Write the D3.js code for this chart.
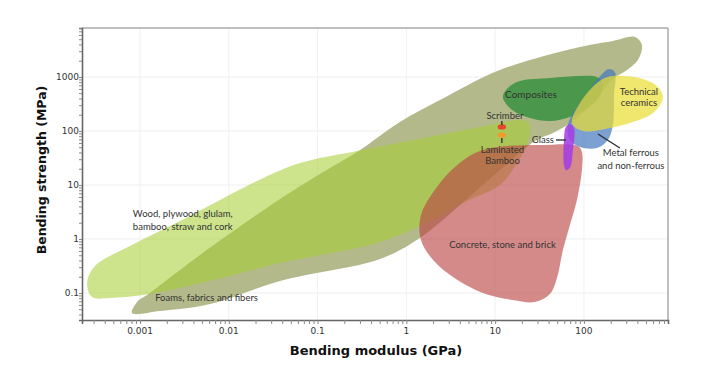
<!DOCTYPE html>
<html><head><meta charset="utf-8">
<script src="https://cdn.jsdelivr.net/npm/d3@7"></script>
<style>body{margin:0;background:#fff}svg{display:block}</style>
</head><body><svg id="c" width="701" height="367"></svg>
<script>
// ---- axis ticks ----
const xTicks = [0.001, 0.01, 0.1, 1, 10, 100];
const xTickLabels = ["0.001", "0.01", "0.1", "1", "10", "100"];
const yTicks = [0.1, 1, 10, 100, 1000];
const yTickLabels = ["0.1", "1", "10", "100", "1000"];
const xTitle = "Bending modulus (GPa)";
const yTitle = "Bending strength (MPa)";

// ---- material envelopes: modulus (GPa) / strength (MPa) outline points ----
const foamE = [0.000813, 0.000948, 0.0012, 0.00474, 0.0378, 0.138, 0.278, 0.847, 2.39, 11.3, 90.2, 212, 375, 450, 406, 305, 212, 133, 79.2, 47.1, 28.1, 11.3, 4.02, 1.42, 0.505, 0.0378, 0.00614, 0.00168];
const foamS = [0.0426, 0.0711, 0.0918, 0.506, 5.51, 20.6, 40.8, 147, 375, 1349, 3592, 4642, 5505, 3915, 2064, 1349, 918, 375, 160, 95.8, 65.3, 18.9, 4.26, 1.04, 0.426, 0.167, 0.0626, 0.0464];

const woodE = [0.000253, 0.000311, 0.000771, 0.00282, 0.0208, 0.0634, 0.278, 1.19, 6.75, 19.0, 24.0, 24.7, 22.2, 17.1, 11.3, 4.81, 1.85, 0.505, 0.0378, 0.00664, 0.0013, 0.000459, 0.000288];
const woodS = [0.153, 0.316, 0.742, 2.15, 11.9, 25.5, 42.6, 68.1, 119, 160, 141, 91.8, 50.5, 23.5, 10, 5.05, 2.15, 0.88, 0.359, 0.174, 0.0958, 0.0808, 0.0843];

const concreteE = [5.93, 10.5, 32.0, 85.5, 94.9, 94.9, 83.4, 69.5, 58.0, 49.7, 41.4, 28.1, 15.8, 7.29, 3.35, 2.0, 1.46, 1.46, 2.21, 3.52];
const concreteS = [39.1, 50.5, 55.0, 52.7, 40.8, 18.9, 5.27, 1.82, 0.626, 0.190, 0.0958, 0.0681, 0.0742, 0.1, 0.198, 0.409, 0.958, 2.78, 9.18, 21.5];

const compositesE = [12.2, 13.9, 19.0, 41.4, 90.2, 140, 164, 151, 111, 69.5, 41.4, 24.7, 15.5];
const compositesS = [426, 626, 843, 958, 1044, 1000, 742, 445, 267, 182, 153, 174, 245];

const metalE = [160, 191, 223, 218, 212, 186, 140, 90.2, 69.5, 66.1, 79.2, 111];
const metalS = [1137, 1407, 1238, 464, 129, 68.1, 48.4, 50.5, 68.1, 129, 245, 528];

const ceramicsE = [73.3, 90.2, 140, 186, 275, 462, 681, 776, 598, 330, 196, 97.4];
const ceramicsS = [141, 330, 774, 1000, 1044, 918, 653, 408, 215, 141, 114, 100];

const glassE = [62.7, 69.5, 77.2, 75.2, 69.5, 62.7, 59.6, 59.6];
const glassS = [119, 135, 114, 44.5, 20.6, 18.9, 23.5, 68.1];

// single products
const productNames = ["Scrimber", "Laminated Bamboo"];
const productE = [11.9, 11.9];
const productS = [119, 84];

// ---- scales ----
const plotL = 82, plotR = 668, plotT = 28, plotB = 320;
const x = d3.scaleLog().domain([0.000222, 885]).range([plotL, plotR]);
const y = d3.scaleLog().domain([0.0316, 8070]).range([plotB, plotT]);

const svg = d3.select("#c");

// gridlines
const grid = svg.append("g");
grid.selectAll("line.h").data(yTicks).join("line")
  .attr("x1", plotL).attr("x2", plotR)
  .attr("y1", d => y(d)).attr("y2", d => y(d))
  .attr("stroke", "#efefef").attr("stroke-width", 1);
grid.selectAll("line.v").data(xTicks).join("line")
  .attr("y1", plotT).attr("y2", plotB)
  .attr("x1", d => x(d)).attr("x2", d => x(d))
  .attr("stroke", "#f1f1f1").attr("stroke-width", 1);

// shapes
const shapes = [
  {E: foamE, S: foamS, fill: "#b3b98b", op: 1},
  {E: woodE, S: woodS, fill: "#a6cf32", op: 0.56},
  {E: concreteE, S: concreteS, fill: "#bb4242", op: 0.62},
  {E: compositesE, S: compositesS, fill: "#288c37", op: 0.75},
  {E: metalE, S: metalS, fill: "#4577bf", op: 0.7},
  {E: ceramicsE, S: ceramicsS, fill: "#e9dd30", op: 0.7},
  {E: glassE, S: glassS, fill: "#a53ee2", op: 0.88}
];
const line = d3.line().x(d => x(d[0])).y(d => y(d[1])).curve(d3.curveCatmullRomClosed.alpha(0.5));
svg.append("g").selectAll("path").data(shapes).join("path")
  .attr("d", s => line(s.E.map((e, i) => [e, s.S[i]])))
  .attr("fill", s => s.fill).attr("fill-opacity", s => s.op);

// product dots
const dotColors = ["#e8452a", "#f29a2e"];
svg.append("g").selectAll("ellipse").data(productE).join("ellipse")
  .attr("cx", (d, i) => x(productE[i])).attr("cy", (d, i) => y(productS[i]))
  .attr("rx", 4.2).attr("ry", 2.6).attr("fill", (d, i) => dotColors[i]);

// leader lines (data coords)
const leaders = [
  [[11.9, 153], [11.9, 129]],
  [[11.9, 74.2], [11.9, 59.9]],
  [[48.4, 68.1], [62.7, 68.1]],
  [[144, 88.0], [254, 48.4]]
];
svg.append("g").selectAll("line").data(leaders).join("line")
  .attr("x1", d => x(d[0][0])).attr("y1", d => y(d[0][1]))
  .attr("x2", d => x(d[1][0])).attr("y2", d => y(d[1][1]))
  .attr("stroke", "#2a2a2a").attr("stroke-width", 1.3);

// labels
const labels = [
  {lines: ["Wood, plywood, glulam,", "bamboo, straw and cork"], E: 0.00083, S: 2.56, anchor: "start", lh: 13.5, size: 9.5},
  {lines: ["Foams, fabrics and fibers"], E: 0.00148, S: 0.0711, anchor: "start", lh: 12, size: 9.5},
  {lines: ["Composites"], E: 25.3, S: 408, anchor: "middle", lh: 12, size: 10},
  {lines: ["Technical", "ceramics"], E: 416, S: 464, anchor: "middle", lh: 11.5, size: 9.5},
  {lines: ["Scrimber"], E: 12.9, S: 167, anchor: "middle", lh: 12, size: 9.5},
  {lines: ["Laminated", "Bamboo"], E: 12.1, S: 39.1, anchor: "middle", lh: 11.5, size: 9.5},
  {lines: ["Glass"], E: 45.9, S: 59.9, anchor: "end", lh: 12, size: 9.5},
  {lines: ["Metal ferrous", "and non-ferrous"], E: 338, S: 34.4, anchor: "middle", lh: 12.5, size: 9.5},
  {lines: ["Concrete, stone and brick"], E: 12.1, S: 0.681, anchor: "middle", lh: 12, size: 9.5}
];
const lg = svg.append("g").attr("font-family", "Lato, 'Open Sans', sans-serif").attr("fill", "#333");
labels.forEach(l => {
  const t = lg.append("text").attr("x", x(l.E)).attr("y", y(l.S))
    .attr("text-anchor", l.anchor).attr("font-size", l.size);
  l.lines.forEach((s, i) => t.append("tspan").attr("x", x(l.E)).attr("dy", i ? l.lh : 0).text(s));
});

// frame
svg.append("line").attr("x1", plotL).attr("x2", plotR).attr("y1", plotT).attr("y2", plotT).attr("stroke", "#a8a8a8").attr("stroke-width", 1.5);
svg.append("line").attr("x1", plotR).attr("x2", plotR).attr("y1", plotT).attr("y2", plotB).attr("stroke", "#a8a8a8").attr("stroke-width", 1.5);

// axes with minor ticks
const minorX = [], minorY = [];
for (let p = -4; p <= 3; p++) for (let m = 1; m <= 9; m++) {
  const v = m * Math.pow(10, p);
  if (v >= x.domain()[0] && v <= x.domain()[1]) minorX.push(v);
}
for (let p = -2; p <= 4; p++) for (let m = 1; m <= 9; m++) {
  const v = m * Math.pow(10, p);
  if (v >= y.domain()[0] && v <= y.domain()[1]) minorY.push(v);
}
const xAxis = svg.append("g").attr("transform", `translate(0,${plotB})`)
  .call(d3.axisBottom(x).tickValues(minorX).tickSize(4).tickFormat(""));
const yAxis = svg.append("g").attr("transform", `translate(${plotL},0)`)
  .call(d3.axisLeft(y).tickValues(minorY).tickSize(3).tickFormat(""));
[xAxis, yAxis].forEach(a => {
  a.select(".domain").attr("stroke", "#666").attr("stroke-width", 1.6);
  a.selectAll(".tick line").attr("stroke", "#888");
});
svg.append("g").selectAll("text").data(xTicks).join("text")
  .attr("x", d => x(d)).attr("y", 334).attr("text-anchor", "middle")
  .attr("font-family", "'DejaVu Sans', Verdana, sans-serif").attr("font-size", 9).attr("fill", "#333")
  .text((d, i) => xTickLabels[i]);
svg.append("g").selectAll("text").data(yTicks).join("text")
  .attr("x", 79).attr("y", d => y(d)).attr("dy", "0.35em").attr("text-anchor", "end")
  .attr("font-family", "'DejaVu Sans', Verdana, sans-serif").attr("font-size", 9).attr("fill", "#333")
  .text((d, i) => yTickLabels[i]);

// titles
svg.append("text").attr("x", 376).attr("y", 355).attr("text-anchor", "middle")
  .attr("font-family", "'DejaVu Sans', Verdana, sans-serif").attr("font-weight", "bold")
  .attr("font-size", 13).attr("fill", "#111").text(xTitle);
svg.append("text").attr("transform", "translate(46,170) rotate(-90)").attr("text-anchor", "middle")
  .attr("font-family", "'DejaVu Sans', Verdana, sans-serif").attr("font-weight", "bold")
  .attr("font-size", 12.5).attr("fill", "#111").text(yTitle);
</script>
</body></html>
